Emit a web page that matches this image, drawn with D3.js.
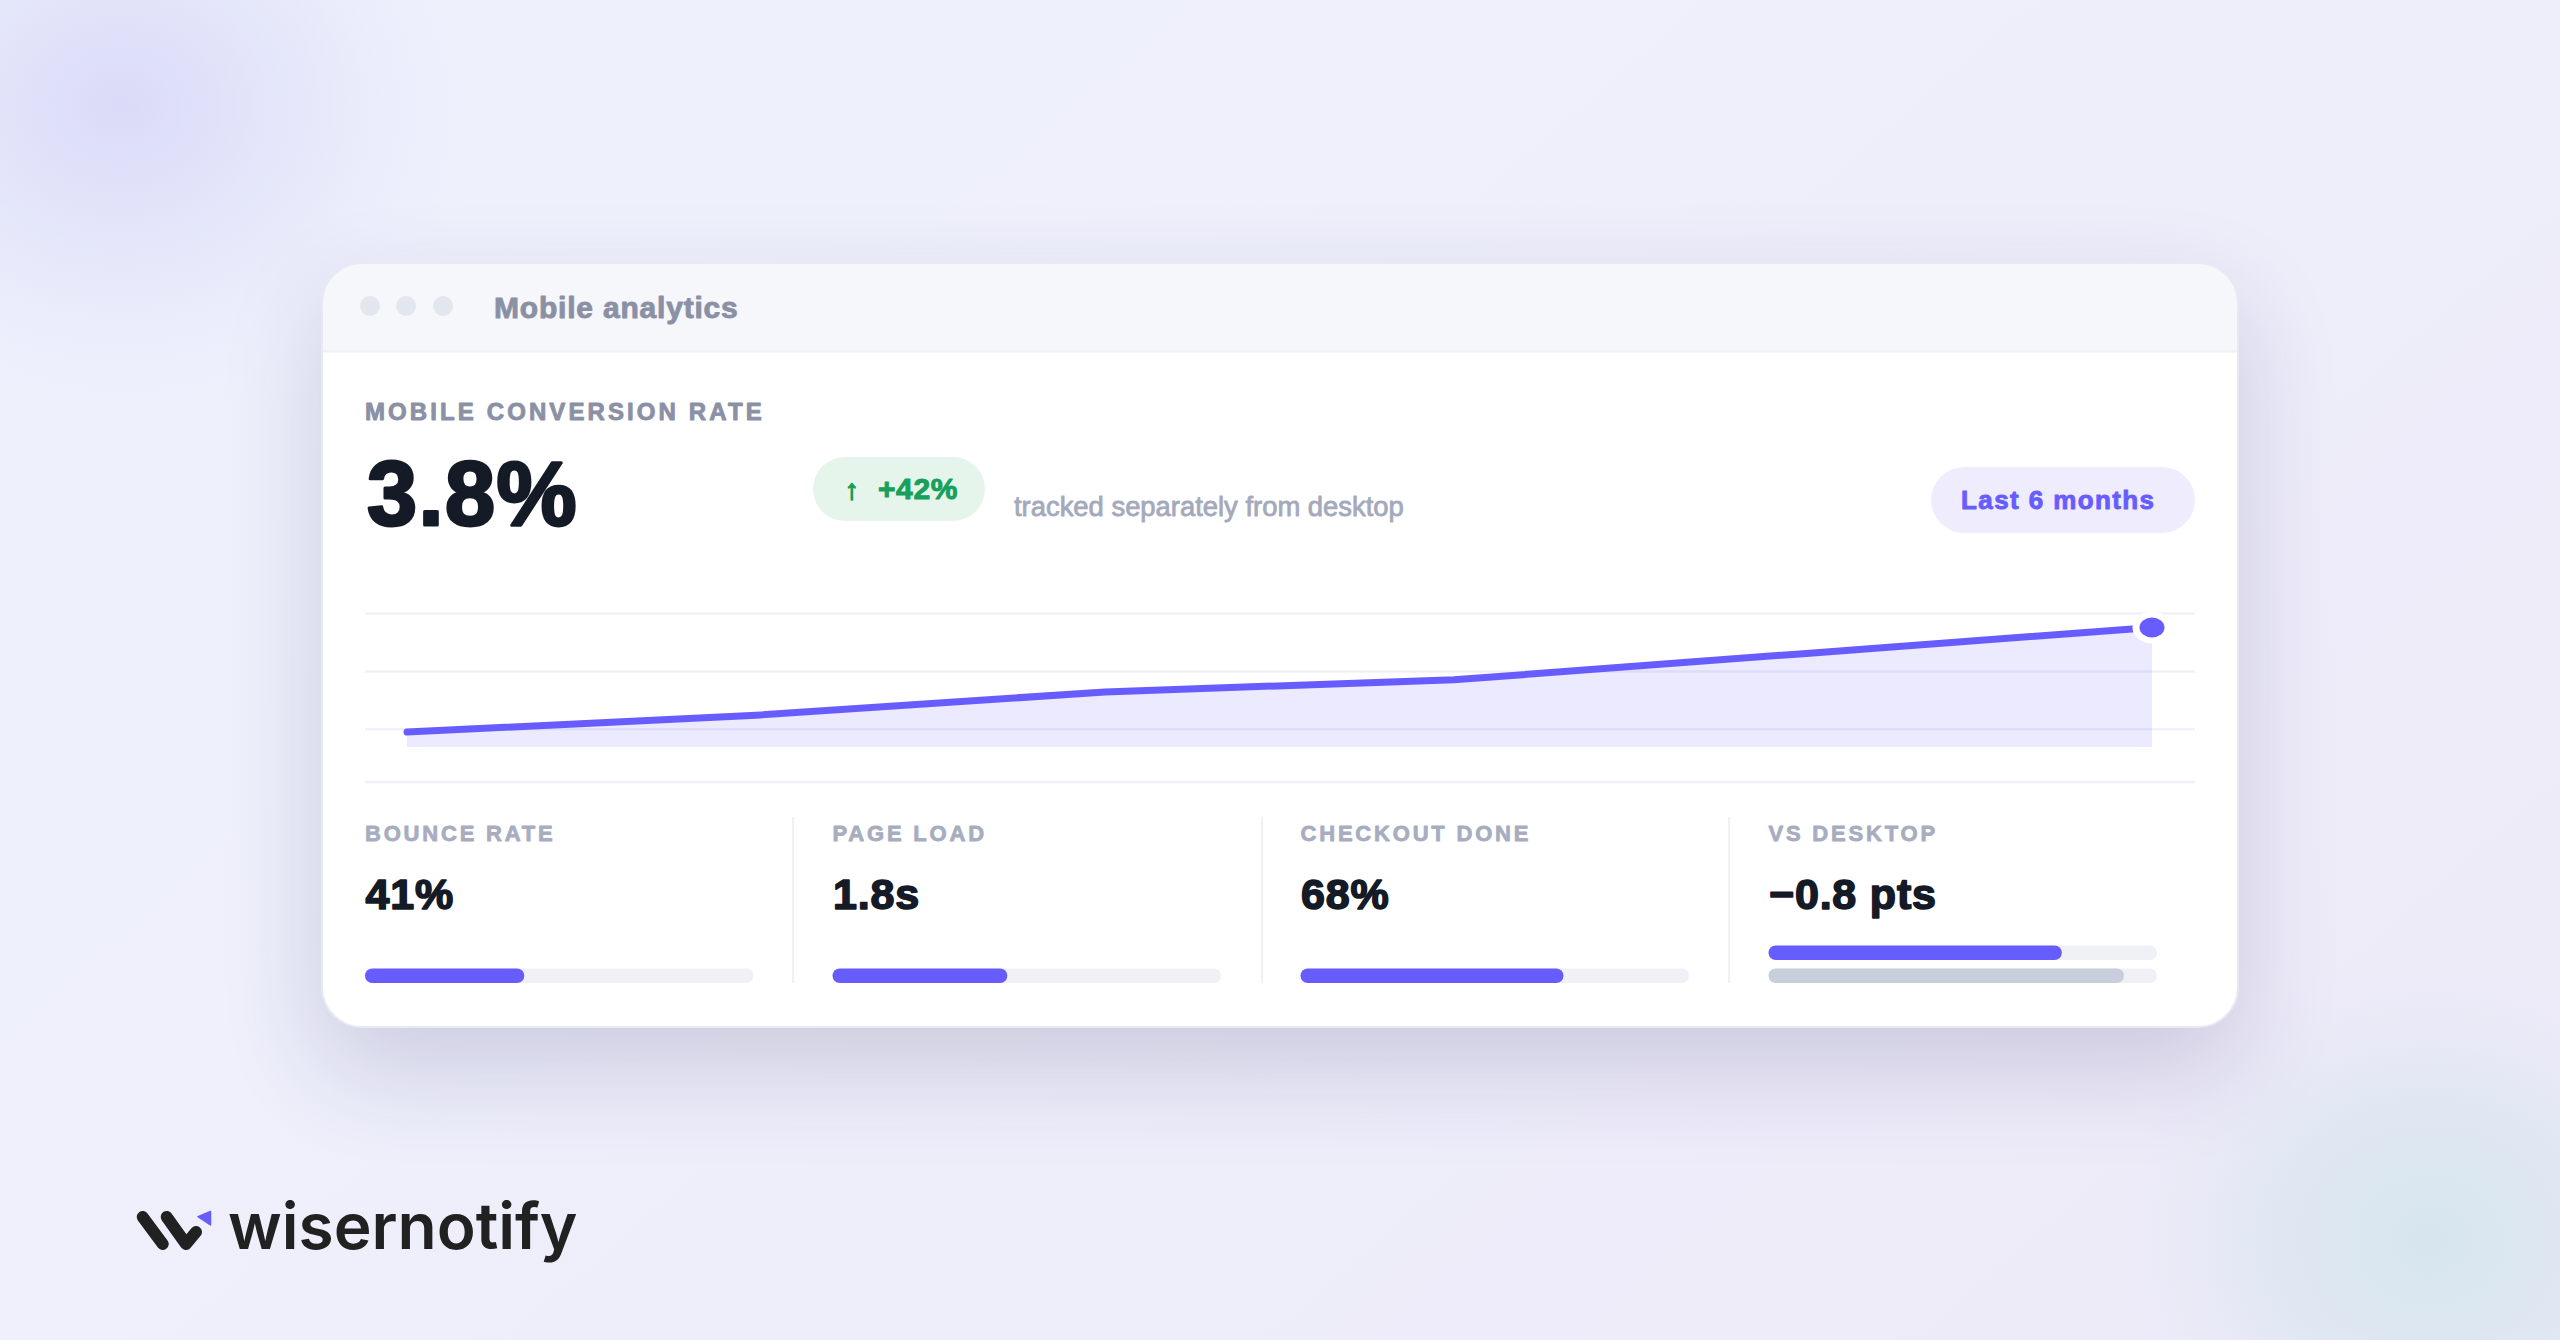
<!DOCTYPE html>
<html>
<head>
<meta charset="utf-8">
<title>Mobile analytics</title>
<script src="https://cdn.jsdelivr.net/npm/d3@7"></script>
<style>
  html, body { margin: 0; padding: 0; background: #eef0fb; }
  svg { display: block; }
  text { font-family: "Liberation Sans", Arial, sans-serif; font-weight: 700; }
</style>
</head>
<body>
<div id="chart"></div>
<script>
// chart data
const months = ['M1', 'M2', 'M3', 'M4', 'M5', 'M6'];
const conversion = [2.68, 2.86, 3.11, 3.24, 3.52, 3.8];
const gridValues = [3.955, 3.335, 2.715];
const kpiLabels = ['BOUNCE RATE', 'PAGE LOAD', 'CHECKOUT DONE', 'VS DESKTOP'];
const kpiValues = ['41%', '1.8s', '68%', '\u22120.8 pts'];
const kpiBars = [41, 45, 67.7, 75.5];
const desktopBar = [91.5];

const W = 2560, H = 1340;
const accent = '#675dff';

let svg = d3.select('#chart').append('svg').attr('width', W).attr('height', H);
let defs = svg.append('defs');

// background
let base = defs.append('linearGradient').attr('id', 'base')
  .attr('x1', 0).attr('y1', 0).attr('x2', 1).attr('y2', 0.6);
base.append('stop').attr('offset', 0).attr('stop-color', '#eef2fc');
base.append('stop').attr('offset', 0.5).attr('stop-color', '#eeeffb');
base.append('stop').attr('offset', 1).attr('stop-color', '#eeebf9');

let blob1 = defs.append('radialGradient').attr('id', 'blob1');
blob1.append('stop').attr('offset', 0).attr('stop-color', '#dadaf8').attr('stop-opacity', 1);
blob1.append('stop').attr('offset', 0.45).attr('stop-color', '#e0e1f9').attr('stop-opacity', 0.7);
blob1.append('stop').attr('offset', 1).attr('stop-color', '#e6e8fb').attr('stop-opacity', 0);

let blob2 = defs.append('radialGradient').attr('id', 'blob2');
blob2.append('stop').attr('offset', 0).attr('stop-color', '#d6e6ee').attr('stop-opacity', 1);
blob2.append('stop').attr('offset', 0.5).attr('stop-color', '#dbe6f0').attr('stop-opacity', 0.75);
blob2.append('stop').attr('offset', 1).attr('stop-color', '#e4e8f4').attr('stop-opacity', 0);

svg.append('rect').attr('width', W).attr('height', H).attr('fill', 'url(#base)');
svg.append('ellipse').attr('cx', 120).attr('cy', 105).attr('rx', 360).attr('ry', 310).attr('fill', 'url(#blob1)');
svg.append('ellipse').attr('cx', 2430).attr('cy', 1240).attr('rx', 320).attr('ry', 280).attr('fill', 'url(#blob2)');

// card, the shadow is a box-shadow because the svg blur left an edge
const card = {x: 322, y: 263, w: 1916, h: 764, r: 40};
svg.append('foreignObject').attr('width', W).attr('height', H)
  .append('xhtml:div')
  .style('position', 'absolute')
  .style('left', card.x + 'px').style('top', card.y + 'px')
  .style('width', card.w + 'px').style('height', card.h + 'px')
  .style('border-radius', card.r + 'px')
  .style('box-shadow', '0 40px 100px rgba(40,40,94,0.18)');
svg.append('rect').attr('x', card.x).attr('y', card.y).attr('width', card.w).attr('height', card.h)
  .attr('rx', card.r).attr('fill', '#fff');

defs.append('clipPath').attr('id', 'cardClip').append('rect')
  .attr('x', card.x).attr('y', card.y).attr('width', card.w).attr('height', card.h).attr('rx', card.r);

let cardG = svg.append('g').attr('clip-path', 'url(#cardClip)');
cardG.append('rect').attr('x', card.x).attr('y', card.y).attr('width', card.w).attr('height', 88).attr('fill', '#f6f7fb');
cardG.append('rect').attr('x', card.x).attr('y', 350).attr('width', card.w).attr('height', 2.5).attr('fill', '#f0f1f7');
svg.append('rect').attr('x', card.x).attr('y', card.y).attr('width', card.w).attr('height', card.h)
  .attr('rx', card.r).attr('fill', 'none').attr('stroke', '#e8eaf3').attr('stroke-width', 2);

// window dots and title
svg.selectAll('.dot').data([370, 406, 443]).enter().append('circle')
  .attr('class', 'dot').attr('cx', d => d).attr('cy', 306).attr('r', 10).attr('fill', '#e2e6ee');

// bold text, the stroke makes it as heavy as in the picture
function label(x, y, str, size, color, spacing, heavy) {
  return svg.append('text').attr('x', x).attr('y', y).text(str)
    .attr('font-size', size).attr('fill', color).attr('letter-spacing', spacing || 0)
    .attr('stroke', color).attr('stroke-width', heavy || 0).attr('stroke-linejoin', 'round');
}

label(494, 318, 'Mobile analytics', 30, '#8b90a5', 0.8, 0.9);
label(365, 420, 'MOBILE CONVERSION RATE', 24, '#8b90a5', 3.1, 0.9);
label(367, 525, '3.8%', 90, '#141a26', 1.5, 3);

// change badge
svg.append('rect').attr('x', 813).attr('y', 457).attr('width', 172).attr('height', 64).attr('rx', 32).attr('fill', '#e6f5ec');
label(852, 499, '\u2191', 28, '#16a05a', 0, 1.4).attr('text-anchor', 'middle');
label(878, 499, '+42%', 30, '#16a05a', 0.6, 1);
label(1014, 516, 'tracked separately from desktop', 27.4, '#a4a9bb', 0, 0.8).style('font-weight', 400);

// range pill
svg.append('rect').attr('x', 1931).attr('y', 467).attr('width', 264).attr('height', 66).attr('rx', 33).attr('fill', '#efedfd');
label(1961, 509, 'Last 6 months', 26, accent, 1.4, 0.9);

// trend chart
let xScale = d3.scalePoint().domain(months).range([407, 2152]);
let yScale = d3.scaleLinear().domain([2.52, 3.8]).range([747, 627.5]);

let grid = svg.append('g').attr('transform', 'translate(365,0)')
  .call(d3.axisLeft(yScale).tickValues(gridValues).tickSize(-1830).tickFormat(''));
grid.select('.domain').remove();
grid.selectAll('line').attr('stroke', '#f0f1f8').attr('stroke-width', 2.5);

svg.append('line').attr('x1', 365).attr('x2', 2195).attr('y1', 782).attr('y2', 782)
  .attr('stroke', '#f0f1f8').attr('stroke-width', 2.5);

let area = d3.area()
  .x((d, i) => xScale(months[i]))
  .y0(yScale(2.52))
  .y1(d => yScale(d));
let line = d3.line()
  .x((d, i) => xScale(months[i]))
  .y(d => yScale(d));

svg.append('path').datum(conversion).attr('d', area).attr('fill', accent).attr('fill-opacity', 0.13);
svg.append('path').datum(conversion).attr('d', line).attr('fill', 'none')
  .attr('stroke', accent).attr('stroke-width', 7).attr('stroke-linecap', 'round').attr('stroke-linejoin', 'round');

// end marker is stretched sideways in the picture
let lastX = xScale(months[months.length - 1]);
let lastY = yScale(conversion[conversion.length - 1]);
svg.append('ellipse').attr('cx', lastX).attr('cy', lastY).attr('rx', 19.5).attr('ry', 16).attr('fill', '#fff');
svg.append('ellipse').attr('cx', lastX).attr('cy', lastY).attr('rx', 12.5).attr('ry', 10).attr('fill', accent);

// kpi columns
const colX = [365, 832.5, 1300.5, 1768.5];
const barW = 388.5, barH = 14.5;
let barScale = d3.scaleLinear().domain([0, 100]).range([0, barW]);

[793, 1262, 1729].forEach((x) => {
  svg.append('line').attr('x1', x).attr('x2', x).attr('y1', 817).attr('y2', 983)
    .attr('stroke', '#f0f1f6').attr('stroke-width', 2);
});

function drawBar(x, y, value, color) {
  svg.append('rect').attr('x', x).attr('y', y).attr('width', barW).attr('height', barH)
    .attr('rx', barH / 2).attr('fill', '#f0f1f6');
  svg.append('rect').attr('x', x).attr('y', y).attr('width', barScale(value)).attr('height', barH)
    .attr('rx', barH / 2).attr('fill', color);
}

kpiLabels.forEach((name, i) => {
  label(colX[i], 841, name, 22, '#a7adbf', 2.8, 0.8);
  label(colX[i] + 0.5, 909, kpiValues[i], 43, '#141a26', 0.8, 1.6);
  drawBar(colX[i], i == 3 ? 945.5 : 968.5, kpiBars[i], accent);
});
drawBar(colX[3], 968.5, desktopBar[0], '#c9cedd');

// logo
let logo = svg.append('g');
logo.append('path').attr('d', 'M142.7,1217L162.7,1244M166.7,1217L186,1244L196,1232')
  .attr('fill', 'none').attr('stroke', '#212121').attr('stroke-width', 12)
  .attr('stroke-linecap', 'round').attr('stroke-linejoin', 'round');
logo.append('path').attr('d', 'M198,1216.7L210.5,1211.5L210.5,1225Z')
  .attr('fill', accent).attr('stroke', accent).attr('stroke-width', 1.5).attr('stroke-linejoin', 'round');
logo.append('text').attr('x', 228).attr('y', 1248.5).text('wisernotify')
  .attr('font-size', 64).attr('fill', '#212121')
  .style('font-family', 'Inter, sans-serif').style('font-weight', 600);
</script>
</body>
</html>
